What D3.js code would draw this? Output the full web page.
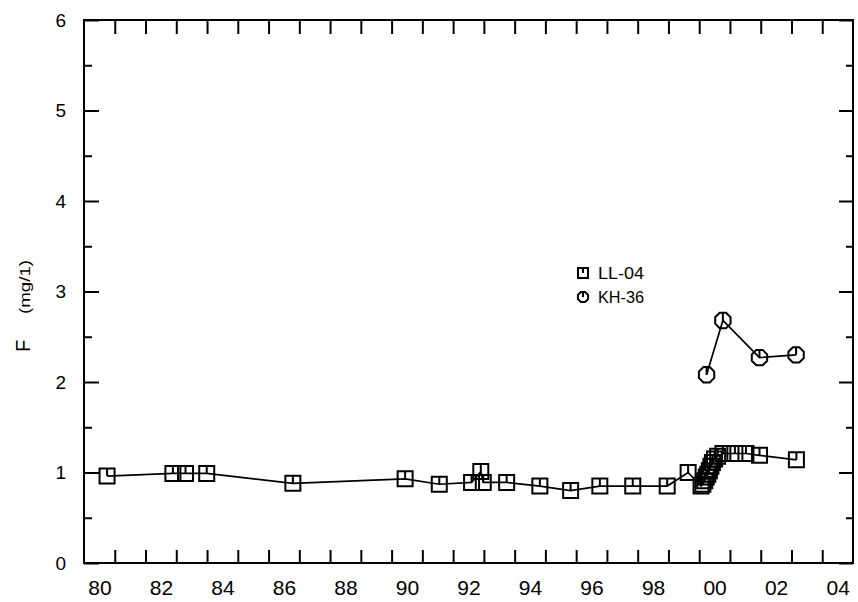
<!DOCTYPE html>
<meta charset="utf-8">
<style>
  body { margin: 0; background: #fff; }
  svg { font-family: "Liberation Sans", Arial, sans-serif; }
  .tick line { stroke: #000; stroke-width: 2px; }
  .data-line { fill: none; stroke: #000; stroke-width: 1.7px; }
  .mark { fill: none; stroke: #000; stroke-width: 2px; }
</style>
<body>
<script src="https://d3js.org/d3.v7.min.js"></script>
<script>
// LL-04 well (decimal years, F in mg/l)
var llYears = [1980.75, 1982.89, 1983.30, 1983.99, 1986.79, 1990.44, 1991.55, 1992.60,
               1992.90, 1992.98, 1993.74, 1994.82, 1995.82, 1996.77, 1997.84, 1998.96,
               1999.64, 2000.06, 2000.12, 2000.18, 2000.23, 2000.28, 2000.33, 2000.38,
               2000.43, 2000.50, 2000.60, 2000.77, 2001.16, 2001.52, 2001.96, 2003.16];
var llValues = [0.96, 0.99, 0.99, 0.99, 0.88, 0.93, 0.87, 0.89,
                1.01, 0.89, 0.89, 0.85, 0.80, 0.85, 0.85, 0.85,
                1.00, 0.85, 0.87, 0.91, 0.95, 0.98, 1.02, 1.07,
                1.11, 1.15, 1.18, 1.21, 1.21, 1.21, 1.19, 1.14];

// KH-36 well
var khYears = [2000.24, 2000.77, 2001.96, 2003.15];
var khValues = [2.08, 2.68, 2.27, 2.30];

var xLabelYears = [1980, 1982, 1984, 1986, 1988, 1990, 1992, 1994, 1996, 1998, 2000, 2002, 2004];
var xTickLabels = ["80", "82", "84", "86", "88", "90", "92", "94", "96", "98", "00", "02", "04"];
var yTickValues = [0, 1, 2, 3, 4, 5, 6];
var yMinorValues = [0.5, 1.5, 2.5, 3.5, 4.5, 5.5];
var legendNames = ["LL-04", "KH-36"];

var W = 858, H = 602;
var pLeft = 84, pRight = 853, pTop = 20, pBottom = 563;

var svg = d3.select("body").append("svg")
  .attr("width", W).attr("height", H);

var x = d3.scaleLinear().domain([1980, 2005]).range([pLeft, pRight]);
var y = d3.scaleLinear().domain([0, 6]).range([pBottom, pTop]);

var yearTicks = d3.range(1981, 2005);

// frame
svg.append("rect")
  .attr("x", pLeft).attr("y", pTop)
  .attr("width", pRight - pLeft).attr("height", pBottom - pTop)
  .attr("fill", "none").attr("stroke", "#000").attr("stroke-width", 2);

function noDomain(g) { g.select(".domain").remove(); }

// year ticks, bottom and top, pointing inward
svg.append("g").attr("transform", "translate(0," + pBottom + ")")
  .call(d3.axisBottom(x).tickValues(yearTicks).tickSize(-13).tickFormat(""))
  .call(noDomain);
svg.append("g").attr("transform", "translate(0," + pTop + ")")
  .call(d3.axisTop(x).tickValues(yearTicks).tickSize(-14).tickFormat(""))
  .call(noDomain);

// year labels, centred on each year interval
svg.append("g").attr("transform", "translate(0," + pBottom + ")")
  .call(d3.axisBottom(x)
    .tickValues(xLabelYears.map(function (d) { return d + 0.5; }))
    .tickSize(0).tickPadding(17)
    .tickFormat(function (d, i) { return xTickLabels[i]; }))
  .call(noDomain)
  .selectAll("text").attr("font-size", 21).attr("fill", "#000")
  .attr("font-family", "Liberation Sans, Arial, sans-serif");

// y ticks
svg.append("g").attr("transform", "translate(" + pLeft + ",0)")
  .call(d3.axisLeft(y).tickValues(yTickValues).tickSize(-15).tickPadding(18)
    .tickFormat(d3.format("d")))
  .call(noDomain)
  .selectAll("text").attr("font-size", 19).attr("fill", "#000")
  .attr("font-family", "Liberation Sans, Arial, sans-serif");
svg.append("g").attr("transform", "translate(" + pLeft + ",0)")
  .call(d3.axisLeft(y).tickValues(yMinorValues).tickSize(-8).tickFormat(""))
  .call(noDomain);
svg.append("g").attr("transform", "translate(" + pRight + ",0)")
  .call(d3.axisRight(y).tickValues(yTickValues).tickSize(-14).tickFormat(""))
  .call(noDomain);
svg.append("g").attr("transform", "translate(" + pRight + ",0)")
  .call(d3.axisRight(y).tickValues(yMinorValues).tickSize(-7).tickFormat(""))
  .call(noDomain);

// y axis title
svg.append("text")
  .attr("transform", "translate(30,346) rotate(-90)")
  .attr("text-anchor", "middle").attr("font-size", 20)
  .text("F");
svg.append("text")
  .attr("transform", "translate(30,287) rotate(-90)")
  .attr("text-anchor", "middle").attr("font-size", 15)
  .attr("textLength", 54).attr("lengthAdjust", "spacingAndGlyphs")
  .text("(mg/1)");

// marker shapes: outline plus a stroke from the centre to the top
function squarePath(s) {
  var h = s / 2;
  return "M0,0V" + (-h) + "H" + h + "V" + h + "H" + (-h) + "V" + (-h) + "H0";
}
function octPath(r) {
  var t = r * Math.cos(Math.PI / 8);
  var p = "M0,0V" + (-t);
  for (var i = 0; i < 8; i++) {
    var a = -Math.PI / 2 + Math.PI / 8 + i * Math.PI / 4;
    p += "L" + (r * Math.cos(a)).toFixed(2) + "," + (r * Math.sin(a)).toFixed(2);
  }
  return p + "L0," + (-t).toFixed(2);
}

var llData = llYears.map(function (d, i) { return [d, llValues[i]]; });
var khData = khYears.map(function (d, i) { return [d, khValues[i]]; });

var line = d3.line()
  .x(function (d) { return x(d[0]); })
  .y(function (d) { return y(d[1]); });

svg.append("path").datum(llData).attr("class", "data-line").attr("d", line);
svg.append("path").datum(khData).attr("class", "data-line").attr("d", line);

svg.selectAll(".ll").data(llData).enter().append("path")
  .attr("class", "mark ll")
  .attr("transform", function (d) { return "translate(" + x(d[0]) + "," + y(d[1]) + ")"; })
  .attr("d", squarePath(15));

svg.selectAll(".kh").data(khData).enter().append("path")
  .attr("class", "mark kh")
  .attr("transform", function (d) { return "translate(" + x(d[0]) + "," + y(d[1]) + ")"; })
  .attr("d", octPath(8.3));

// legend
var legend = svg.append("g");
legend.append("path").attr("class", "mark")
  .attr("transform", "translate(583,273)").attr("d", squarePath(10));
legend.append("path").attr("class", "mark")
  .attr("transform", "translate(583,297)").attr("d", octPath(5.5));
legend.selectAll("text").data(legendNames).enter().append("text")
  .attr("x", 598).attr("y", function (d, i) { return 279 + i * 24; })
  .attr("font-size", 16)
  .attr("textLength", 46).attr("lengthAdjust", "spacingAndGlyphs")
  .text(function (d) { return d; });
</script>
</body>
